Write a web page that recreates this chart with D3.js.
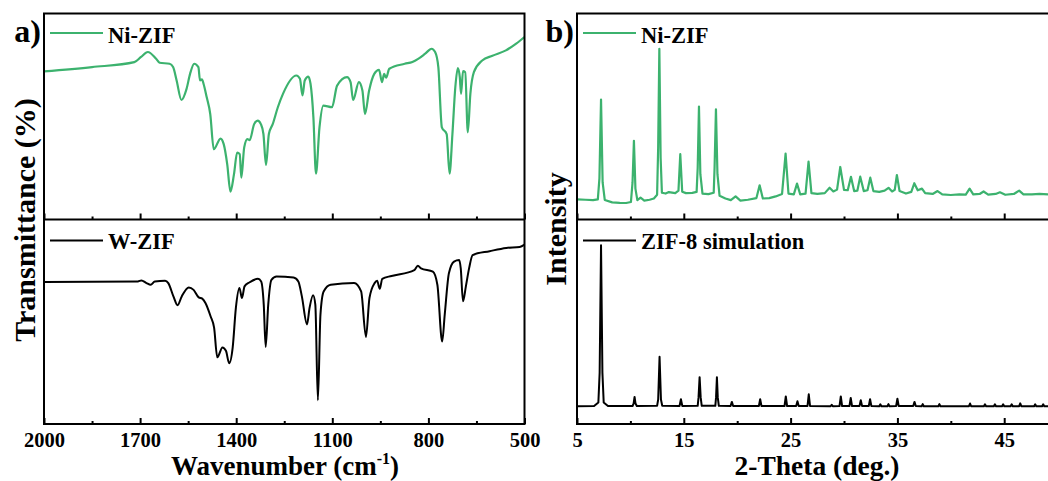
<!DOCTYPE html>
<html>
<head>
<meta charset="utf-8">
<script src="https://cdn.jsdelivr.net/npm/d3@7"></script>
<style>
  body { margin: 0; background: #fff; }
  svg { display: block; }
  text { font-family: "Liberation Serif", "Times New Roman", serif; font-weight: bold; fill: #000; }
</style>
</head>
<body>
<svg class="chart" width="1048" height="481"></svg>
<script>
// FTIR, wavenumber (cm-1) vs transmittance (arb. 0-100)
var ftirNi = [[2000,71.9],[1850,74],[1718,76.4],[1697,78.9],[1676,81.3],[1650,78.0],[1639,76.1],[1608,75.6],[1597,74.0],
  [1586,67.5],[1571,58.0],[1555,63.4],[1544,70.7],[1531,75.6],[1518,74.0],[1513,67.5],[1507,68.0],[1502,65.9],
  [1492,59.3],[1481,51.2],[1470,34.1],[1449,39.3],[1439,36.6],[1428,26.8],[1418,13.5],[1407,21.9],[1397,32.5],
  [1389,31.7],[1384,20.3],[1375,35.0],[1365,39.0],[1358,38.5],[1344,46.3],[1333,48.0],[1323,46.3],[1315,41.5],
  [1307,26.5],[1298,41.5],[1286,46.3],[1270,54.5],[1254,61.0],[1212,69.9],[1201,68.3],[1193,60.2],[1186,67.5],
  [1175,69.4],[1168,65.9],[1159,49.6],[1151,22.3],[1140,44.7],[1128,55.3],[1101,54.5],[1085,65.0],[1054,69.1],
  [1043,66.7],[1035,58.0],[1017,66.7],[1006,62.6],[998,51.2],[985,62.6],[969,70.7],[954,72.7],[945,66.7],
  [938,70.7],[932,68.8],[922,73.2],[874,75.6],[850,76.5],[832,78.0],[810,80.5],[790,82.9],[779,81.3],[769,74.0],
  [758,44.7],[743,41.5],[734,22.3],[725,41.5],[716,64.2],[708,73.5],[702,69.1],[698,61.0],[692,72.0],
  [685,71.5],[677,42.3],[669,61.0],[658,71.5],[632,77.2],[600,79.5],[558,82.1],[526,85.4],[500,88.6]];

var ftirW = [[2000,69.4],[1707,69.7],[1696,70.2],[1680,68.9],[1667,68.1],[1654,69.7],[1622,70.0],[1612,68.9],
  [1596,62.4],[1583,58.1],[1570,62.4],[1548,66.8],[1533,65.6],[1517,61.9],[1506,61.3],[1496,59.2],[1480,52.7],
  [1469,47.1],[1459,32.6],[1443,37.4],[1432,35.8],[1422,29.7],[1411,37.4],[1401,56.8],[1390,66.5],[1382,61.6],
  [1374,67.3],[1359,69.2],[1332,71.0],[1322,69.7],[1314,58.4],[1308,37.7],[1300,58.4],[1290,70.5],[1274,72.1],
  [1221,71.6],[1206,69.7],[1195,62.4],[1179,48.7],[1171,56.8],[1160,62.9],[1153,58.4],[1145,11.6],[1137,53.5],
  [1127,64.8],[1105,68.1],[1032,68.9],[1010,64.8],[995,42.6],[984,61.6],[968,68.9],[960,70.0],[952,66.1],
  [944,71.0],[915,72.4],[844,75.3],[833,77.4],[823,76.1],[786,74.5],[772,68.1],[757,40.3],[749,53.5],
  [736,73.7],[720,79.4],[704,80.2],[699,76.1],[692,60.0],[683,67.3],[673,76.1],[662,82.6],[609,84.5],
  [557,86.1],[515,86.6],[500,87.7]];

// XRD, 2-theta (deg.) vs intensity (arb. 0-100)
var xrdNi = [[5.0,9.8],[5.8,9.6],[6.5,9.4],[6.95,9.8],[7.1,20],[7.25,58.2],[7.4,18],[7.6,9.5],[8.3,8.3],[9.0,8.1],
  [9.6,8.0],[10.05,8.5],[10.2,18],[10.33,38.2],[10.47,15],[10.65,9.4],[10.95,10.6],[11.3,9.2],[11.8,9.6],
  [12.2,10.2],[12.5,12],[12.6,35],[12.71,82.9],[12.83,30],[12.95,13.0],[13.3,12.6],[13.6,13.3],[14.2,12.8],
  [14.5,14],[14.67,31.7],[14.85,13.5],[15.2,12.8],[15.8,12.9],[16.2,13.4],[16.3,25],[16.42,54.8],[16.55,22],
  [16.75,12.6],[17.3,12.3],[17.8,13.0],[17.88,25],[18.01,53.5],[18.15,22],[18.35,11.5],[18.9,10.2],[19.4,9.4],
  [19.85,11.2],[20.3,9.2],[21.0,9.6],[21.8,10.4],[22.1,16.6],[22.4,10.2],[23.0,10.4],[23.6,11.2],[24.2,12.4],
  [24.53,32.0],[24.8,12.6],[25.3,12.2],[25.6,17.4],[25.9,12.2],[26.4,12.6],[26.68,28.1],[26.95,12.8],[27.5,12.4],
  [28.2,12.8],[28.65,15.4],[29.0,13.6],[29.35,14.5],[29.65,25.5],[30.0,14.4],[30.35,14.2],[30.65,20.7],[30.95,13.8],
  [31.25,14.0],[31.52,20.8],[31.85,13.8],[32.2,14.2],[32.46,20.3],[32.75,13.8],[33.3,13.4],[33.8,14.0],[34.17,15.4],
  [34.5,13.6],[34.75,14.4],[34.95,21.6],[35.2,13.8],[35.8,12.6],[36.3,13.4],[36.58,17.6],[36.9,14.2],[37.3,15.0],
  [37.6,12.8],[38.3,12.4],[38.76,13.8],[39.2,12.2],[40.0,11.9],[40.8,12.2],[41.4,12.1],[41.76,15.0],[42.1,12.2],
  [42.7,12.4],[43.07,13.6],[43.5,12.1],[44.2,12.4],[44.6,13.2],[45.1,12.0],[45.9,12.4],[46.4,14.0],[46.8,12.2],
  [47.6,12.2],[48.3,12.4],[49.1,12.2]];

var xrdSim = [[5.0,8.7],[6.6,8.8],[7.0,10.5],[7.12,25],[7.25,87.4],[7.38,25],[7.5,10.5],[7.9,8.8],[10.2,8.8],
  [10.3,10],[10.39,13.2],[10.48,10],[10.6,8.8],[12.5,8.9],[12.6,12],[12.73,32.9],[12.86,12],[12.98,8.9],
  [14.6,8.8],[14.73,12.1],[14.86,8.8],[16.3,8.9],[16.38,13],[16.48,22.9],[16.58,13],[16.68,8.9],[17.95,8.9],
  [18.02,13],[18.1,22.9],[18.18,13],[18.28,8.9],[19.38,8.8],[19.5,10.8],[19.62,8.8],[22.03,8.8],[22.15,12.1],
  [22.27,8.8],[24.43,8.8],[24.55,13.5],[24.67,8.8],[25.52,8.8],[25.64,11.1],[25.76,8.8],[26.58,8.8],[26.7,14.5],
  [26.82,8.8],[28.75,8.7],[28.85,9.4],[28.95,8.7],[29.58,8.8],[29.7,13.5],[29.82,8.8],[30.51,8.8],[30.63,12.7],
  [30.75,8.8],[31.45,8.8],[31.57,11.6],[31.69,8.8],[32.32,8.8],[32.44,12.1],[32.56,8.8],[33.3,8.7],[33.4,9.6],
  [33.5,8.7],[34.06,8.7],[34.16,9.7],[34.26,8.7],[34.88,8.8],[35.0,12.4],[35.12,8.8],[36.48,8.8],[36.6,10.8],
  [36.72,8.8],[37.27,8.7],[37.37,9.7],[37.47,8.7],[38.83,8.7],[38.93,9.7],[39.03,8.7],[41.7,8.7],[41.8,10.0],
  [41.9,8.7],[43.1,8.7],[43.2,9.6],[43.3,8.7],[44.03,8.7],[44.13,9.6],[44.23,8.7],[44.8,8.7],[44.9,9.6],
  [45.0,8.7],[45.6,8.7],[45.7,9.6],[45.8,8.7],[46.4,8.7],[46.5,10.1],[46.6,8.7],[47.8,8.7],[47.9,9.6],
  [48.0,8.7],[48.55,8.7],[48.65,9.6],[48.75,8.7],[49.1,8.7]];

// tick values and labels
var ftirMajor = [2000, 1700, 1400, 1100, 800, 500];
var ftirMinor = [1850, 1550, 1250, 950, 650];
var xrdMajor = [5, 15, 25, 35, 45];
var xrdMinor = [10, 20, 30, 40];

var green = "#3cb26e";
var svg = d3.select(".chart");

var top0 = 13.5, mid = 219.5, bot = 424;

function panel(opt) {
    var x = d3.scaleLinear().domain(opt.domain).range([opt.left, opt.right]);
    var yTop = d3.scaleLinear().domain([0, 100]).range([mid, top0]);
    var yBot = d3.scaleLinear().domain([0, 100]).range([bot, mid]);

    // curves
    var lineTop = d3.line().x(function(d) { return x(d[0]); }).y(function(d) { return yTop(d[1]); }).curve(opt.curve);
    var lineBot = d3.line().x(function(d) { return x(d[0]); }).y(function(d) { return yBot(d[1]); }).curve(opt.curve);

    svg.append("path").datum(opt.topData)
        .attr("d", lineTop).attr("fill", "none")
        .attr("stroke", green).attr("stroke-width", 2.2).attr("stroke-linejoin", "round");
    svg.append("path").datum(opt.botData)
        .attr("d", lineBot).attr("fill", "none")
        .attr("stroke", "#000").attr("stroke-width", 2).attr("stroke-linejoin", "round");

    // inward ticks on both panel bottoms, labels only on the lower one
    [mid, bot].forEach(function(yy, i) {
        svg.append("g").attr("transform", "translate(0," + yy + ")")
            .call(d3.axisBottom(x).tickValues(opt.minor).tickSize(-3).tickFormat(""))
            .call(function(g) { g.select(".domain").remove(); g.selectAll("line").attr("stroke-width", 2); });
        var major = svg.append("g").attr("transform", "translate(0," + yy + ")")
            .call(d3.axisBottom(x).tickValues(opt.major).tickSize(-6).tickPadding(8).tickFormat(d3.format("d")))
            .call(function(g) { g.select(".domain").remove(); g.selectAll("line").attr("stroke-width", 2); });
        if (i === 0) major.selectAll("text").remove();
        major.selectAll("text")
            .style("font-family", "'Liberation Serif', 'Times New Roman', serif")
            .style("font-weight", "bold").style("font-size", "20.5px").attr("fill", "#000");
    });

    // frame
    svg.append("rect").attr("x", opt.left).attr("y", top0)
        .attr("width", opt.frameRight - opt.left).attr("height", bot - top0)
        .attr("fill", "none").attr("stroke", "#000").attr("stroke-width", 2);
    svg.append("line").attr("x1", opt.left).attr("x2", opt.frameRight)
        .attr("y1", mid).attr("y2", mid).attr("stroke", "#000").attr("stroke-width", 2);

    // legends
    var lx = opt.left + 6;
    [[33, green, opt.topName, 42.5], [240.5, "#000", opt.botName, 249]].forEach(function(l) {
        svg.append("line").attr("x1", lx).attr("x2", lx + 53).attr("y1", l[0]).attr("y2", l[0])
            .attr("stroke", l[1]).attr("stroke-width", 2.2);
        svg.append("text").attr("x", lx + 58).attr("y", l[3]).style("font-size", "22.5px").text(l[2]);
    });

    // panel letter
    svg.append("text").attr("x", opt.left - 3).attr("y", 42).attr("text-anchor", "end")
        .style("font-size", "32px").text(opt.letter);

    // y title
    svg.append("text").attr("transform", "translate(" + opt.yTitleX + "," + opt.yTitleY + ") rotate(-90)")
        .attr("text-anchor", "middle").style("font-size", "30px").text(opt.yTitle);

    return x;
}

panel({
    domain: [2000, 500], left: 44, right: 524.5, frameRight: 524.5,
    curve: d3.curveMonotoneX, topData: ftirNi, botData: ftirW,
    major: ftirMajor, minor: ftirMinor,
    topName: "Ni-ZIF", botName: "W-ZIF", letter: "a)",
    yTitle: "Transmittance (%)", yTitleX: 35, yTitleY: 220
});

panel({
    domain: [5, 49.1], left: 577, right: 1048, frameRight: 1050,
    curve: d3.curveLinear, topData: xrdNi, botData: xrdSim,
    major: xrdMajor, minor: xrdMinor,
    topName: "Ni-ZIF", botName: "ZIF-8 simulation", letter: "b)",
    yTitle: "Intensity", yTitleX: 566, yTitleY: 229
});

// x titles
var xt = svg.append("text").attr("x", 285).attr("y", 475).attr("text-anchor", "middle").style("font-size", "27px");
xt.append("tspan").text("Wavenumber (cm");
xt.append("tspan").attr("dy", -11).style("font-size", "16px").text("-1");
xt.append("tspan").attr("dy", 11).text(")");

svg.append("text").attr("x", 817).attr("y", 475).attr("text-anchor", "middle")
    .style("font-size", "27.5px").text("2-Theta (deg.)");
</script>
</body>
</html>
